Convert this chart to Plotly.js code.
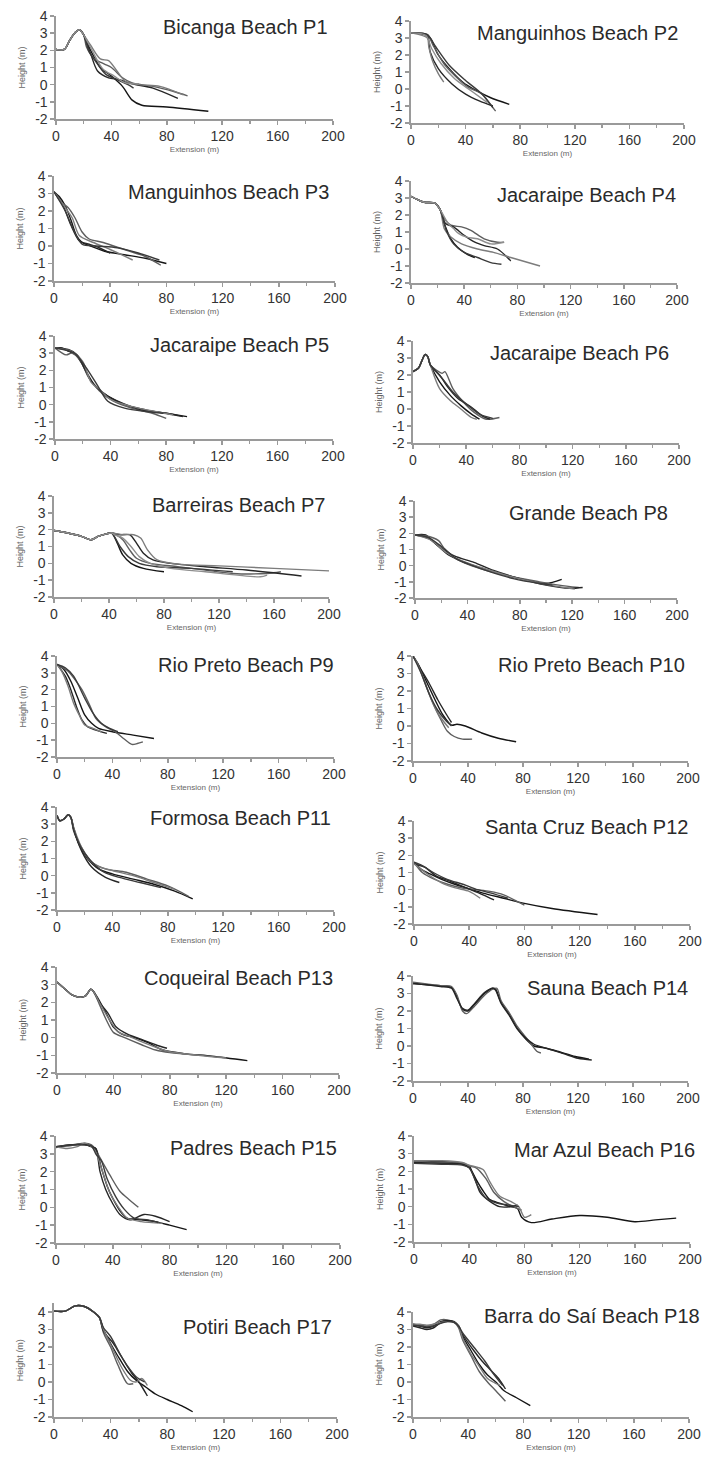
<!DOCTYPE html>
<html><head><meta charset="utf-8">
<script src="https://cdn.plot.ly/plotly-3.0.1.min.js"></script>
<style>html,body{margin:0;padding:0;background:#fff}#chart{width:708px;height:1457px}</style>
</head><body><div id="chart"></div>
<script>
// ---------- DATA ----------
const titles = ["Bicanga Beach P1","Manguinhos Beach P2","Manguinhos Beach P3","Jacaraipe Beach P4",
 "Jacaraipe Beach P5","Jacaraipe Beach P6","Barreiras Beach P7","Grande Beach P8",
 "Rio Preto Beach P9","Rio Preto Beach P10","Formosa Beach P11","Santa Cruz Beach P12",
 "Coqueiral Beach P13","Sauna Beach P14","Padres Beach P15","Mar Azul Beach P16",
 "Potiri Beach P17","Barra do Saí Beach P18"];
const xTickVals = [0,40,80,120,160,200];
const xTickText = ["0","40","80","120","160","200"];
const xMinorTicks = [20,60,100,140,180];
const yTickVals = [-2,-1,0,1,2,3,4];
const yTickText = ["-2","-1","0","1","2","3","4"];
const xTitle = "Extension (m)";
const yTitle = "Height (m)";

const p1x = [[0,6,10,14,17,20,25,32,40,48,55,62,80,110],[0,6,10,14,17,20,22,28,35,40,48,55,70,85,95],[0,6,10,14,17,20,25,30,38,45,55,70,88],[0,6,10,14,17,20,25,32,38,44,50,60,75,92],[0,6,10,14,17,20,24,30,36,44,52,56],[0,6,10,14,17,20,26,34,42,50,60]];
const p1y = [[2.05,2.05,2.6,3.05,3.2,2.9,2.0,1.0,0.5,-0.1,-0.9,-1.2,-1.3,-1.55],[2.05,2.05,2.6,3.05,3.2,2.9,2.2,1.5,1.2,1.0,0.4,0.1,-0.1,-0.4,-0.65],[2.05,2.05,2.6,3.05,3.2,2.9,1.8,0.8,0.4,0.3,0.05,-0.2,-0.8],[2.05,2.05,2.6,3.05,3.2,2.9,2.3,1.5,1.4,0.8,0.2,0.0,-0.1,-0.6],[2.05,2.05,2.6,3.05,3.2,2.9,1.9,1.2,0.6,0.3,0.0,-0.2],[2.05,2.05,2.6,3.05,3.2,2.9,2.0,0.9,0.5,0.1,0.05]];

const p2x = [[0,10,14,20,28,38,48,58,72],[0,12,16,24,32,42,52,58,62],[0,12,14,20,30,40,50,60],[0,12,13,16,20,24],[0,12,18,28,40,52,60],[0,11,15,22,32,44,56]];
const p2y = [[3.3,3.25,3.0,2.0,1.2,0.4,-0.1,-0.5,-0.9],[3.3,3.2,2.6,1.5,0.8,0.1,-0.3,-0.9,-1.3],[3.3,3.1,2.2,1.2,0.3,-0.3,-0.7,-1.0],[3.3,3.0,2.5,1.6,0.9,0.4],[3.3,3.2,2.5,1.4,0.5,-0.3,-1.1],[3.3,3.15,2.4,1.5,0.6,-0.1,-0.8]];

const p3x = [[0,4,8,12,16,20,26,36,50,65,80],[0,5,10,15,20,25,35,50,65,76],[0,6,12,18,25,32,40],[0,7,13,18,28,40,56],[0,8,14,20,30,45,60,75]];
const p3y = [[3.1,2.8,2.3,1.5,0.6,0.2,0.0,-0.3,-0.5,-0.7,-1.0],[3.1,2.5,2.2,1.6,0.8,0.4,0.2,-0.2,-0.6,-1.1],[3.1,2.4,1.2,0.3,0.1,-0.1,-0.4],[3.1,2.3,1.6,0.6,0.2,-0.2,-0.8],[3.1,2.0,0.9,0.1,0.0,-0.1,-0.4,-0.8]];

const p4x = [[0,5,10,18,22,25,30,35,42,48],[0,5,10,18,22,25,30,38,45,55,65,70],[0,5,10,18,22,26,32,40,48,55,65,75],[0,5,10,18,22,25,30,38,50,62,75,97],[0,5,10,18,22,27,32,40,50,60,68],[0,5,10,18,22,28,32,36,42,50,60,70]];
const p4y = [[3.1,2.9,2.75,2.7,2.3,1.5,0.6,0.1,-0.3,-0.5],[3.1,2.9,2.75,2.7,2.3,1.8,1.4,1.3,1.1,0.6,0.4,0.4],[3.1,2.9,2.75,2.7,2.3,1.5,1.3,0.8,0.4,0.2,0.0,-0.7],[3.1,2.9,2.75,2.7,2.3,1.2,0.7,0.3,0.0,-0.2,-0.5,-1.0],[3.1,2.9,2.75,2.7,2.3,1.0,0.3,-0.2,-0.5,-0.8,-0.9],[3.1,2.9,2.75,2.7,2.3,1.5,1.2,0.9,0.7,0.6,0.3,0.4]];

const p5x = [[0,5,10,15,20,25,30,38,50,65,80,95],[0,8,12,18,24,32,42,55,70,80],[0,10,16,22,28,36,48,62,80,92],[0,12,20,26,32,40,55,72,85],[0,14,22,30,38,50,65,78]];
const p5y = [[3.3,3.3,3.1,2.9,2.3,1.5,1.0,0.5,0.0,-0.3,-0.5,-0.7],[3.3,2.9,3.0,2.6,1.6,0.8,0.2,-0.2,-0.5,-0.8],[3.3,3.2,2.9,2.0,1.2,0.6,0.1,-0.3,-0.5,-0.7],[3.3,3.1,2.5,1.3,0.9,0.3,-0.1,-0.4,-0.6],[3.3,3.0,2.2,1.2,0.2,-0.2,-0.4,-0.5]];

const p6x = [[0,4,7,9,11,13,20,28,36,44,50],[0,4,7,9,11,13,22,24,30,38,46,55,65],[0,4,7,9,11,13,20,26,34,44,52,58],[0,4,7,9,11,13,20,28,36,44,48],[0,4,7,9,11,13,22,30,40,50,60]];
const p6y = [[2.2,2.4,2.9,3.2,3.1,2.6,1.6,0.8,0.2,-0.3,-0.6],[2.2,2.4,2.9,3.2,3.1,2.6,2.1,2.2,1.2,0.4,-0.2,-0.6,-0.5],[2.2,2.4,2.9,3.2,3.1,2.6,2.0,1.3,0.6,0.1,-0.4,-0.6],[2.2,2.4,2.9,3.2,3.1,2.6,1.2,0.5,0.0,-0.5,-0.6],[2.2,2.4,2.9,3.2,3.1,2.6,1.8,1.0,0.3,-0.3,-0.55]];

const p7x = [[0,10,20,27,32,38,42,46,50,56,65,80],[0,10,20,27,32,38,42,45,50,55,60,70,90,110,130,155,165],[0,10,20,27,32,38,42,48,55,60,65,72,85,110,140,180],[0,10,20,27,32,38,42,50,58,63,68,75,90,120,160,200],[0,10,20,27,32,38,42,48,54,62,75,100,130],[0,10,20,27,32,38,42,44,50,56,62,70,85,110,150,155]];
const p7y = [[1.95,1.8,1.6,1.4,1.6,1.75,1.8,1.2,0.5,0.0,-0.3,-0.5],[1.95,1.8,1.6,1.4,1.6,1.75,1.8,1.7,1.4,0.8,0.3,0.0,-0.2,-0.4,-0.6,-0.6,-0.5],[1.95,1.8,1.6,1.4,1.6,1.75,1.8,1.7,1.7,1.2,0.6,0.2,0.0,-0.2,-0.4,-0.75],[1.95,1.8,1.6,1.4,1.6,1.75,1.8,1.7,1.7,1.5,0.8,0.2,-0.05,-0.15,-0.3,-0.45],[1.95,1.8,1.6,1.4,1.6,1.75,1.8,1.0,0.4,0.0,-0.2,-0.3,-0.5],[1.95,1.8,1.6,1.4,1.6,1.75,1.8,1.7,1.5,1.0,0.4,0.0,-0.3,-0.5,-0.8,-0.7]];

const p8x = [[0,8,15,25,35,45,60,80,100,112],[0,8,18,22,30,40,55,75,95,110,125],[0,10,20,30,45,60,80,100,118,128],[0,12,24,36,50,70,90,110,122],[0,10,20,32,44,58,75,95,105]];
const p8y = [[1.9,1.9,1.4,0.7,0.3,0.0,-0.4,-0.8,-1.1,-0.85],[1.9,1.85,1.55,1.1,0.5,0.1,-0.3,-0.7,-1.0,-1.2,-1.35],[1.9,1.7,1.1,0.6,0.2,-0.3,-0.8,-1.2,-1.4,-1.35],[1.9,1.6,0.8,0.3,-0.1,-0.6,-1.0,-1.3,-1.45],[1.9,1.75,1.2,0.4,0.0,-0.4,-0.8,-1.1,-1.2]];

const p9x = [[0,5,10,15,20,25,30,40,55,70],[0,8,12,18,24,28,35,42,48,54,58,62],[0,6,10,14,18,22,28,36],[0,4,8,12,16,20,26,32],[0,6,12,20,26,32,38,44]];
const p9y = [[3.5,3.2,2.5,1.5,0.5,0.0,-0.3,-0.5,-0.7,-0.9],[3.5,3.1,2.7,2.0,1.0,0.3,-0.2,-0.5,-0.9,-1.25,-1.2,-1.1],[3.5,2.8,2.0,1.0,0.2,-0.2,-0.4,-0.6],[3.5,3.0,2.2,1.2,0.5,-0.1,-0.3,-0.5],[3.5,3.3,2.8,1.5,0.6,0.0,-0.3,-0.5]];

const p10x = [[0,4,10,16,22,28,32,38,50,62,75],[0,5,10,15,20,25,30,36,43],[0,6,12,18,24,28],[0,3,8,14,20,26],[0,6,12,18,24,28]];
const p10y = [[4.0,3.5,2.5,1.5,0.6,0.05,0.1,0.0,-0.4,-0.7,-0.9],[4.0,3.3,2.2,1.2,0.4,-0.3,-0.6,-0.75,-0.75],[4.0,3.2,2.4,1.5,0.7,0.2],[4.0,3.6,2.6,1.4,0.5,-0.1],[4.0,3.0,1.8,0.9,0.3,0.0]];

const p11x = [[0,2,5,8,10,12,16,22,30,40,55,70,85,98],[0,2,5,8,10,12,18,25,35,50,65,80,95],[0,2,5,8,10,12,18,25,35,45],[0,2,5,8,10,12,20,28,40,55,70,85],[0,2,5,8,10,12,17,24,34,45,60,75]];
const p11y = [[3.5,3.2,3.3,3.55,3.4,2.8,1.8,1.0,0.4,0.1,-0.2,-0.5,-0.9,-1.35],[3.5,3.2,3.3,3.55,3.4,2.6,1.6,0.8,0.4,0.2,-0.2,-0.6,-1.2],[3.5,3.2,3.3,3.55,3.4,2.7,1.4,0.5,-0.1,-0.4],[3.5,3.2,3.3,3.55,3.4,2.8,1.3,0.6,0.3,0.0,-0.4,-0.8],[3.5,3.2,3.3,3.55,3.4,2.7,1.7,0.9,0.2,-0.1,-0.4,-0.7]];

const p12x = [[0,5,12,20,30,40,50,65,80,100,133],[0,6,15,25,35,45,55,65,75,80],[0,8,16,26,38,50,58],[0,10,20,30,40,48],[0,6,14,24,36,46,56,68]];
const p12y = [[1.6,1.2,0.9,0.6,0.3,0.05,-0.2,-0.5,-0.8,-1.1,-1.45],[1.6,1.0,0.6,0.3,0.1,0.0,-0.1,-0.3,-0.7,-0.9],[1.5,1.3,0.8,0.5,0.1,-0.3,-0.6],[1.5,0.9,0.4,0.1,-0.1,-0.5],[1.6,1.4,1.0,0.6,0.3,0.0,-0.2,-0.5]];

const p13x = [[0,5,10,15,20,24,26,30,36,40,46,55,65,75,90,110,135],[0,5,10,15,20,24,26,30,35,40,48,60,70,80,100],[0,5,10,15,20,24,26,30,36,42,50,60,70,78],[0,5,10,15,20,24,26,30,38,44,52,62,72,80,120]];
const p13y = [[3.15,2.8,2.45,2.3,2.35,2.75,2.6,2.1,1.2,0.6,0.2,0.0,-0.3,-0.7,-0.9,-1.05,-1.3],[3.15,2.8,2.45,2.3,2.35,2.75,2.6,1.9,1.0,0.3,0.0,-0.4,-0.7,-0.85,-1.0],[3.15,2.8,2.45,2.3,2.35,2.75,2.6,2.0,1.4,0.6,0.2,-0.1,-0.4,-0.6],[3.15,2.8,2.45,2.3,2.35,2.75,2.6,2.0,0.9,0.3,0.05,-0.3,-0.6,-0.8,-1.15]];

const p14x = [[0,10,20,28,32,36,40,45,52,58,60,64,70,76,82,88,95,105,118,128],[0,10,20,28,32,36,39,45,52,58,61,64,70,76,82,86,90,93],[0,10,20,28,32,36,40,45,52,58,60,64,70,76,82,88,100,110,120,130]];
const p14y = [[3.6,3.5,3.45,3.35,2.8,2.1,2.0,2.4,3.0,3.3,3.25,2.5,1.8,1.0,0.4,0.0,-0.1,-0.3,-0.6,-0.75],[3.65,3.55,3.45,3.4,2.9,2.0,1.85,2.3,2.9,3.25,3.3,2.6,1.9,1.1,0.5,0.1,-0.3,-0.4],[3.55,3.5,3.4,3.3,2.7,2.15,2.05,2.45,3.05,3.3,3.2,2.45,1.75,0.95,0.45,0.1,-0.2,-0.45,-0.7,-0.8]];

const p15x = [[0,10,20,25,28,32,36,40,46,50,60,70,80,92],[0,10,20,25,28,33,38,45,52,58],[0,10,20,25,28,31,35,40,45,52,62,70,80],[0,8,15,20,25,28,34,38,44,50,60,75],[0,10,20,25,28,32,36,42,48,55,65,72]];
const p15y = [[3.4,3.5,3.55,3.4,3.3,2.2,1.2,0.5,-0.3,-0.6,-0.7,-0.8,-1.0,-1.25],[3.4,3.45,3.6,3.5,3.2,2.5,1.8,0.9,0.4,0.0],[3.35,3.5,3.5,3.4,3.3,2.0,1.0,0.2,-0.4,-0.7,-0.4,-0.5,-0.8],[3.4,3.3,3.4,3.6,3.4,3.1,1.7,0.8,0.0,-0.6,-0.8,-0.9],[3.4,3.5,3.5,3.45,3.0,2.6,1.6,0.6,-0.1,-0.6,-0.7,-0.85]];

const p16x = [[0,20,35,40,42,46,50,55,62,70,75,78,85,100,120,140,160,175,190],[0,20,35,40,45,52,58,65,72,78],[0,20,35,40,44,48,55,62,70,75],[0,20,35,40,50,55,62,70,76,80,85],[0,20,35,40,46,52,60,68,76]];
const p16y = [[2.6,2.55,2.45,2.3,2.0,1.4,0.9,0.4,0.2,0.0,-0.1,-0.6,-0.9,-0.7,-0.5,-0.6,-0.85,-0.75,-0.65],[2.55,2.5,2.45,2.3,2.2,1.6,0.8,0.3,0.0,-0.2],[2.5,2.45,2.4,2.2,1.6,0.8,0.3,0.0,0.0,0.1],[2.6,2.6,2.5,2.35,2.1,1.4,0.6,0.3,0.0,-0.6,-0.45],[2.45,2.4,2.35,2.2,1.2,0.5,0.2,0.1,0.0]];

const p17x = [[0,8,15,22,28,32,35,40,45,52,58,65,72,80,90,98],[0,8,15,22,28,32,35,40,45,52,56],[0,8,15,22,28,32,35,42,48,55,60,66],[0,8,15,22,28,32,35,42,48,54,58,62,66],[0,8,15,22,28,32,35,40,46,52,58,64]];
const p17y = [[4.05,4.05,4.35,4.3,4.0,3.7,3.0,2.2,1.5,0.6,0.1,-0.3,-0.7,-1.0,-1.35,-1.7],[4.05,4.05,4.35,4.3,4.0,3.7,2.8,2.0,1.0,-0.1,-0.1],[4.05,4.05,4.35,4.3,4.0,3.7,2.9,2.2,1.4,0.5,0.0,-0.8],[4.05,4.05,4.35,4.3,4.0,3.7,3.0,1.8,0.8,0.1,0.0,0.2,-0.2],[4.05,4.05,4.35,4.3,4.0,3.7,3.1,2.6,1.7,0.9,0.3,0.0]];

const p18x = [[0,5,10,15,20,25,30,33,36,42,48,54,60,66,75,85],[0,5,10,15,20,25,30,33,36,42,48,54,60,67],[0,5,10,15,20,25,30,33,36,44,50,56,62,67],[0,5,10,15,20,25,30,33,36,42,48,54,58,63],[0,5,10,15,20,25,30,33,36,44,52,58,65]];
const p18y = [[3.3,3.2,3.1,3.2,3.45,3.5,3.4,3.2,2.6,1.8,1.0,0.4,0.0,-0.5,-0.9,-1.35],[3.3,3.25,3.2,3.3,3.55,3.55,3.4,3.1,2.4,1.5,0.6,0.0,-0.5,-1.1],[3.2,3.1,3.0,3.1,3.4,3.5,3.45,3.2,2.7,1.8,1.2,0.7,0.2,-0.4],[3.3,3.3,3.25,3.3,3.4,3.45,3.4,3.2,2.5,1.6,0.9,0.2,0.0,-0.2],[3.25,3.2,3.15,3.2,3.35,3.45,3.4,3.2,2.8,2.0,1.2,0.5,-0.2]];

const panelX = [p1x,p2x,p3x,p4x,p5x,p6x,p7x,p8x,p9x,p10x,p11x,p12x,p13x,p14x,p15x,p16x,p17x,p18x];
const panelY = [p1y,p2y,p3y,p4y,p5y,p6y,p7y,p8y,p9y,p10y,p11y,p12y,p13y,p14y,p15y,p16y,p17y,p18y];
const yTop = [4,4,4,4,4,4,4,4,4,4,4,4,4,4,4,4,4.5,4];

// ---------- LAYOUT (pixel boxes: x at 0, x at 200, y at 4, y at -2) ----------
const W = 708, H = 1457;
const boxes = [[56,333,16,119],[411,684,21,123],[54,335,176,281],[411,677,181,283],
 [55,333,336,439],[413,679,341,443],[54,329,496,597],[415,677,501,598],
 [57,334,656,757],[413,688,656,761],[57,334,807,910],[414,690,821,924],
 [57,339,967,1073],[413,688,976,1081],[56,340,1136,1243],[414,690,1136,1242],
 [54,337,1312,1417],[413,689,1312,1417]];
const titlePos = [[330,27],[680,33],[331,192],[678,195],[331,345],[671,353],[327,505],[670,513],
 [336,665],[687,665],[333,818],[690,827],[335,978],[690,988],[339,1148],[697,1150],[334,1327],[702,1316]];
const palette = ['#151515','#5e5e5e','#262626','#7c7c7c','#3a3a3a','#8e8e8e'];

const tickFont = {family:"'Liberation Sans',Arial,sans-serif", size:14, color:'#333333'};
const traces = [];
const layout = {width:W, height:H, margin:{l:0,r:0,t:0,b:0}, showlegend:false,
  paper_bgcolor:'#fff', plot_bgcolor:'rgba(0,0,0,0)', annotations:[]};

for (let i=0;i<18;i++){
  const n = i+1, sx = n===1?'':String(n);
  const [x0,x1,y4,ym2] = boxes[i];
  const unit = (ym2-y4)/6;
  const topPx = y4 - (yTop[i]-4)*unit;
  panelX[i].forEach((xs,k)=>{
    traces.push({type:'scatter', mode:'lines', x:xs, y:panelY[i][k], xaxis:'x'+sx, yaxis:'y'+sx,
      line:{color:palette[k%palette.length], width:1.4, shape:'spline', smoothing:0.8},
      hoverinfo:'skip'});
  });
  layout['xaxis'+sx] = {domain:[x0/W, x1/W], range:[0,200], anchor:'y'+sx,
    showline:true, linecolor:'#9a9a9a', linewidth:1.6, ticks:'outside', ticklen:4, tickwidth:1.5, tickcolor:'#9a9a9a',
    tickmode:'array', tickvals:xTickVals, ticktext:xTickText, tickfont:tickFont,
    minor:{tickmode:'array', tickvals:xMinorTicks, ticks:'outside', ticklen:3, tickwidth:1.2, tickcolor:'#9a9a9a', showgrid:false},
    showgrid:false, zeroline:false, fixedrange:true,
    title:{text:xTitle, font:{family:"'Liberation Sans',Arial,sans-serif", size:8, color:'#666666'}, standoff:3}};
  layout['yaxis'+sx] = {domain:[1-ym2/H, 1-topPx/H], range:[-2,yTop[i]], anchor:'x'+sx,
    showline:true, linecolor:'#9a9a9a', linewidth:1.6, ticks:'outside', ticklen:4, tickwidth:1.5, tickcolor:'#9a9a9a',
    tickmode:'array', tickvals:yTickVals, ticktext:yTickText, tickfont:tickFont,
    showgrid:false, zeroline:false, fixedrange:true,
    title:{text:yTitle, font:{family:"'Liberation Sans',Arial,sans-serif", size:9, color:'#666666'}, standoff:8}};
  layout.annotations.push({text:titles[i], xref:'paper', yref:'paper', x:titlePos[i][0]/W, y:1-titlePos[i][1]/H,
    xanchor:'right', yanchor:'middle', showarrow:false,
    font:{family:"'Liberation Sans',Arial,sans-serif", size:20, color:'#2a2a2a'}});
}
Plotly.newPlot('chart', traces, layout, {staticPlot:true, displayModeBar:false});
</script></body></html>
